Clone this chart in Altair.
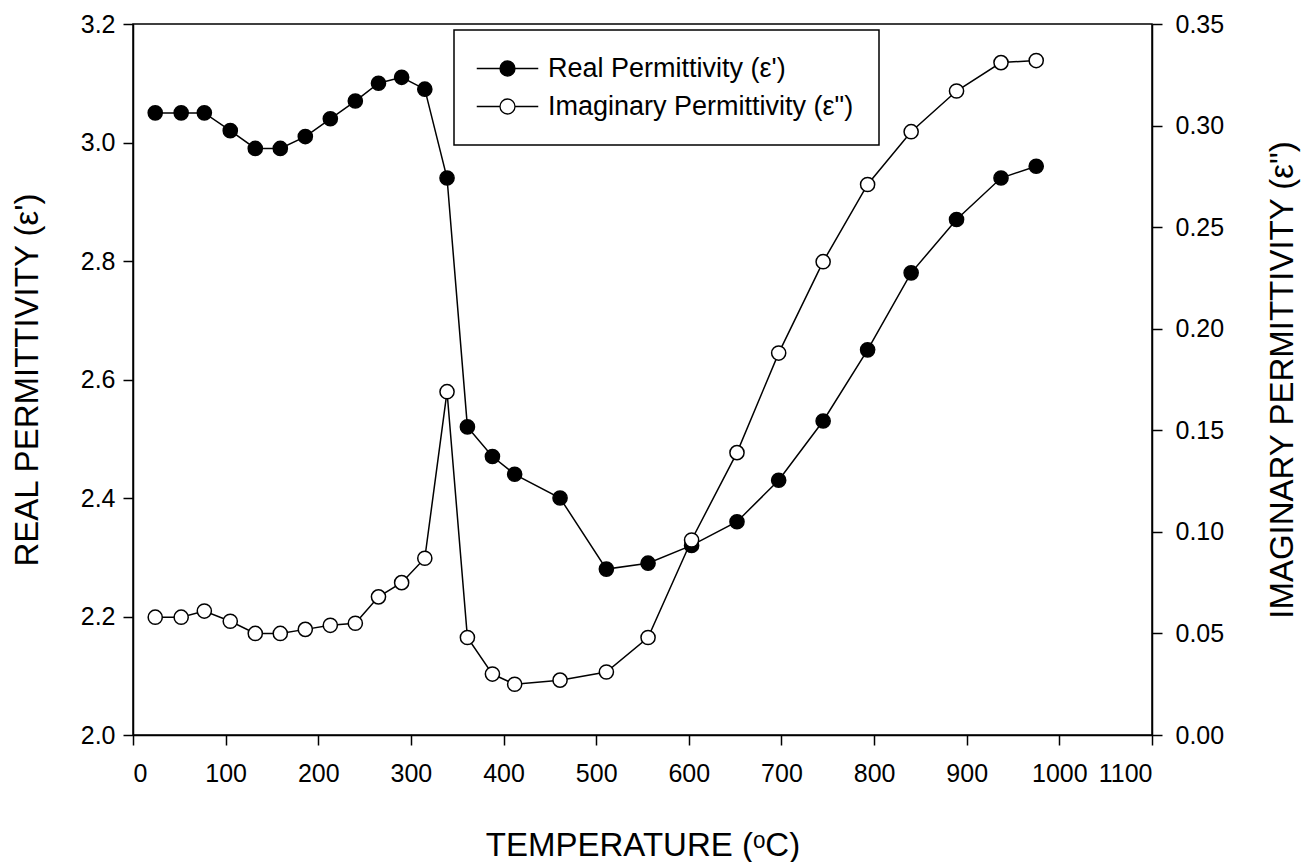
import altair as alt
import pandas as pd

temperature = [24, 52, 77, 105, 132, 159, 186, 213, 240, 265, 290, 315, 339, 361,
               388, 412, 461, 511, 556, 603, 652, 697, 745, 793, 840, 889, 937, 975]
real_perm = [3.05, 3.05, 3.05, 3.02, 2.99, 2.99, 3.01, 3.04, 3.07, 3.10, 3.11, 3.09,
             2.94, 2.52, 2.47, 2.44, 2.40, 2.28, 2.29, 2.32, 2.36, 2.43, 2.53, 2.65,
             2.78, 2.87, 2.94, 2.96]
imag_perm = [0.058, 0.058, 0.061, 0.056, 0.050, 0.050, 0.052, 0.054, 0.055, 0.068,
             0.075, 0.087, 0.169, 0.048, 0.030, 0.025, 0.027, 0.031, 0.048, 0.096,
             0.139, 0.188, 0.233, 0.271, 0.297, 0.317, 0.331, 0.332]
series_names = ["Real Permittivity (ε')", 'Imaginary Permittivity (ε")']

x_ticks = list(range(0, 1101, 100))
left_ticks = [2.0, 2.2, 2.4, 2.6, 2.8, 3.0, 3.2]
right_ticks = [0.0, 0.05, 0.10, 0.15, 0.20, 0.25, 0.30, 0.35]

df_real = pd.DataFrame({"T": temperature, "v": real_perm, "series": series_names[0]})
df_imag = pd.DataFrame({"T": temperature, "v": imag_perm, "series": series_names[1]})

FONT = "Liberation Sans"

x_enc = alt.X("T:Q", scale=alt.Scale(domain=[0, 1100], nice=False),
              axis=alt.Axis(values=x_ticks, title="TEMPERATURE (ᵒC)", format="d",
                            labelPadding=16, titleY=120, titleBaseline="alphabetic"))

legend_path = "M-4.1,0L-1,0M1,0L4.1,0M-1,0A1,1,0,1,1,1,0A1,1,0,1,1,-1,0Z"

fill_enc = alt.Fill("series:N",
                    scale=alt.Scale(domain=series_names, range=["black", "white"]),
                    legend=alt.Legend(title=None, orient="none", legendX=321, legendY=6,
                                      symbolType=legend_path, symbolSize=225,
                                      symbolStrokeColor="black", symbolStrokeWidth=1.3,
                                      symbolOffset=15, labelOffset=27,
                                      labelFont=FONT, labelFontSize=27, labelColor="black",
                                      padding=25, rowPadding=10,
                                      strokeColor="black",
                                      fillColor="white", labelLimit=500))

left_y = alt.Y("v:Q", scale=alt.Scale(domain=[2.0, 3.2], nice=False, zero=False),
               axis=alt.Axis(orient="left", values=left_ticks, format=".1f",
                             title="REAL PERMITTIVITY (ε')", labelPadding=8,
                             titleAngle=270, titleX=-96, titleBaseline="alphabetic"))
right_y = alt.Y("v:Q", scale=alt.Scale(domain=[0.0, 0.35], nice=False, zero=False),
                axis=alt.Axis(orient="right", values=right_ticks, format=".2f",
                              title='IMAGINARY PERMITTIVITY (ε")', labelPadding=13,
                              titleAngle=270, titleX=140, titleBaseline="alphabetic"))

real_line = alt.Chart(df_real).mark_line(color="black", strokeWidth=1.5).encode(x=x_enc, y=left_y)
real_pts = alt.Chart(df_real).mark_point(shape="circle", filled=True, stroke="black",
                                         strokeWidth=1.5, size=200, opacity=1).encode(
    x=x_enc, y=left_y, fill=fill_enc)
imag_line = alt.Chart(df_imag).mark_line(color="black", strokeWidth=1.5).encode(x=x_enc, y=right_y)
imag_pts = alt.Chart(df_imag).mark_point(shape="circle", filled=True, stroke="black",
                                         strokeWidth=1.5, size=200, opacity=1).encode(
    x=x_enc, y=right_y, fill=fill_enc)

left = alt.layer(real_line, real_pts)
right = alt.layer(imag_line, imag_pts)

chart = alt.layer(left, right).resolve_scale(y="independent").properties(
    width=1019, height=711,
    autosize=alt.AutoSizeParams(type="none"),
    padding={"left": 133, "top": 24, "right": 152, "bottom": 127},
    background="white",
).configure_view(stroke="black", strokeWidth=1.5).configure_axis(
    grid=False, domainColor="black", domainWidth=1.5, tickColor="black", tickWidth=1.5,
    tickSize=10, labelFont=FONT, labelFontSize=25, labelColor="black",
    titleFont=FONT, titleFontSize=33, titleFontWeight="normal", titleColor="black",
).configure_legend(strokeWidth=1.5)

chart.save("out.html", embed_options={"renderer": "svg", "actions": False})
